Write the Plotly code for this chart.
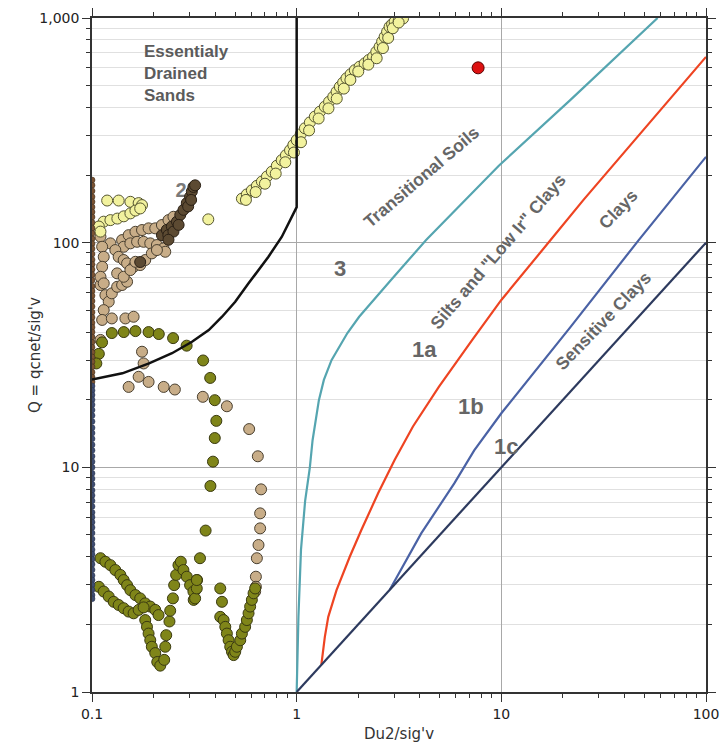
import numpy as np
import plotly.graph_objects as go

# ---------------- boundary curves ----------------
zone2_x = [1, 1, 0.845, 0.728, 0.582, 0.501, 0.432, 0.372, 0.308, 0.246, 0.190, 0.1407, 0.1]
zone2_y = [1000, 144, 106, 86.6, 65.9, 54.6, 46.8, 40.8, 36.2, 32.2, 29.0, 26.2, 24.6]

zone3_x = [1, 1.01, 1.02, 1.05, 1.1, 1.16, 1.196, 1.284, 1.358, 1.48, 1.77, 2.02, 2.39, 2.89,
           3.52, 4.29, 9.72, 21.7, 58]
zone3_y = [1, 1.6, 2.16, 4.3, 7.1, 10, 13.2, 19.9, 24.5, 30, 39.6, 46.8, 55.6, 68.2,
           83.7, 102.7, 220, 431, 1000]

zone1a_x = [1.32, 1.373, 1.427, 1.566, 1.817, 2.07, 2.5, 3.01, 3.70, 4.95, 7.21, 10, 17.4, 25.2, 100]
zone1a_y = [1.32, 1.76, 2.16, 2.84, 4.0, 5.26, 7.66, 10.78, 15.2, 22.8, 36.9, 55.6, 102.7, 155, 671]

zone1b_x = [2.85, 4.06, 5.89, 7.37, 10, 21.8, 46.9, 100]
zone1b_y = [2.85, 5.08, 8.49, 11.9, 17.4, 42.2, 102.7, 241]

zone1c_x = [1, 100]
zone1c_y = [1, 100]

# ---------------- CPT data points ----------------
yellow_x = [0.540, 0.571, 0.604, 0.639, 0.676, 0.716, 0.756, 0.80, 0.845, 0.886, 0.928, 0.963,
            1.0, 1.047, 1.097, 1.16, 1.227, 1.30, 1.373, 1.44, 1.509, 1.567, 1.625, 1.687,
            1.751, 1.835, 1.923, 2.03, 2.149, 2.25, 2.362, 2.45, 2.543, 2.615, 2.69, 2.765,
            2.844, 2.925, 3.01, 3.15, 3.31,
            0.565, 0.63, 0.70, 0.79, 0.88, 0.97, 1.05, 1.15, 1.28, 1.43, 1.57, 1.70, 1.83,
            2.0, 2.24, 2.46, 2.64, 2.80, 2.95, 3.15,
            0.1186, 0.135, 0.154, 0.169, 0.1755, 0.114, 0.123, 0.133, 0.143, 0.154, 0.163,
            0.172, 0.370, 0.108, 0.11]
yellow_y = [157, 164, 171, 179, 187, 197, 207, 220, 233, 245, 258, 272,
            286, 304, 323, 343, 364, 383, 403, 424, 446, 470, 494, 516,
            539, 562, 586, 607, 628, 650, 672, 708, 745, 785, 825, 868,
            914, 938, 962, 970, 995,
            155, 168, 183, 203, 228, 252, 280, 316, 357, 396, 438, 485, 530,
            578, 620, 662, 735, 815, 900, 955,
            154, 154, 152, 150, 147, 124, 126, 128, 131, 135, 139,
            142, 127, 118, 112]

tan_x = [0.110, 0.1163, 0.1207, 0.125, 0.1327, 0.1403, 0.1484, 0.1141, 0.1121, 0.125, 0.1456, 0.1597, 0.110,
         0.1403, 0.151, 0.163, 0.1755, 0.189, 0.2037, 0.2196, 0.2364, 0.250,
         0.1428, 0.154, 0.166, 0.1787, 0.1926, 0.2076, 0.2236, 0.228,
         0.123, 0.130, 0.135, 0.1428, 0.1484, 0.1597, 0.172, 0.182, 0.196, 0.2076,
         0.110, 0.1121, 0.1141, 0.1121, 0.110, 0.1141,
         0.1327, 0.1428, 0.154, 0.163,
         0.1755, 0.1787,
         0.151, 0.169, 0.189, 0.224, 0.254, 0.348, 0.456, 0.586, 0.646, 0.670, 0.663,
         0.663, 0.651, 0.639, 0.632, 0.632, 0.627]
tan_y = [64.8, 58.4, 54.6, 59.5, 63.6, 64.8, 67.0, 50.1, 45.3, 46.0, 46.0, 46.8, 36.9,
         102.7, 108, 111.8, 113.8, 115.8, 115.8, 119.8, 126, 130.4,
         95.9, 99.3, 100.9, 100.9, 99.3, 97.6, 94.3, 91.1,
         99.3, 92.7, 86.5, 83.7, 80.9, 78.1, 79.5, 83.7, 89.6, 92.7,
         106.3, 95.9, 86.5, 78.1, 70.5, 65.9,
         73.0, 70.5, 75.5, 82.2,
         32.7, 29.0,
         22.8, 25.3, 24.0, 22.8, 22.2, 20.6, 18.7, 14.8, 11.2, 7.98, 6.24,
         5.35, 4.51, 3.94, 3.26, 2.94, 2.80]

dark_x = [0.2197, 0.232, 0.2455, 0.260, 0.270, 0.280, 0.2905, 0.3015, 0.3075, 0.313, 0.319,
          0.236, 0.25, 0.265, 0.295, 0.305, 0.172, 0.2364]
dark_y = [108, 114, 118, 124, 133, 140, 150, 160, 169, 177, 180,
          108, 112, 120, 145, 155, 82, 103]

olive_x = [0.112, 0.108, 0.105,
           0.125, 0.143, 0.163, 0.189, 0.212, 0.249, 0.290, 0.349, 0.378, 0.398, 0.405, 0.398,
           0.390, 0.379, 0.359, 0.337, 0.326, 0.320, 0.314,
           0.110, 0.1163, 0.123, 0.130, 0.1376, 0.1428, 0.1484, 0.154, 0.163, 0.172, 0.182,
           0.1926, 0.2037, 0.2114,
           0.108, 0.1141, 0.1207, 0.1277, 0.135, 0.1428, 0.151, 0.1597, 0.169, 0.1787,
           0.182, 0.1856, 0.189, 0.1926, 0.196, 0.2037, 0.2084, 0.2155, 0.2253,
           0.228, 0.2305, 0.239, 0.241, 0.2485, 0.252, 0.2577, 0.2645, 0.2716, 0.2797, 0.2905,
           0.3015, 0.313, 0.319, 0.325, 0.325,
           0.4233, 0.4315, 0.4233, 0.4397, 0.448, 0.456, 0.465, 0.4736, 0.483, 0.492, 0.501,
           0.5105, 0.530, 0.540, 0.560, 0.571, 0.582, 0.5925, 0.604, 0.6157, 0.627]
olive_y = [36, 32, 29,
           39.6, 40.0, 40.4, 40.0, 39.2, 37.6, 34.8, 29.9, 25.0, 19.9, 16.1, 13.5,
           10.6, 8.26, 5.23, 3.94, 3.15, 2.84, 2.57,
           3.94, 3.80, 3.67, 3.49, 3.32, 3.15, 2.99, 2.84, 2.70, 2.61, 2.48,
           2.40, 2.32, 2.20,
           2.94, 2.80, 2.66, 2.52, 2.44, 2.36, 2.28, 2.24, 2.32, 2.38,
           2.09, 1.95, 1.82, 1.70, 1.59, 1.49, 1.36, 1.31, 1.39,
           1.59, 1.79, 2.06, 2.30, 2.61, 2.99, 3.32, 3.67, 3.80, 3.49, 3.26,
           2.99, 2.80, 2.61, 2.89, 3.15,
           2.89, 2.52, 2.16, 2.09, 1.95, 1.82, 1.70, 1.59, 1.51, 1.46, 1.51,
           1.59, 1.70, 1.82, 1.95, 2.09, 2.24, 2.40, 2.57, 2.75, 2.89]

edge_brown_y = [190, 180, 170, 160, 152, 144, 137, 130, 123, 116, 110, 104, 99, 94, 89, 84, 80,
                76, 72, 68, 64, 61, 58, 55, 52, 49, 46.5, 44, 42, 40, 38, 36, 34.2, 32.5, 31,
                29.5, 28, 26.5, 25.2, 24]
edge_navy_y = [23, 22, 21, 20, 19, 18, 17, 16, 15, 14.2, 13.4, 12.6, 11.9, 11.2, 10.6, 10,
               9.4, 8.9, 8.4, 7.9, 7.5, 7.1, 6.7, 6.3, 6.0, 5.7, 5.4, 5.1, 4.8, 4.55, 4.3,
               4.1, 3.9, 3.7, 3.5, 3.3, 3.15, 3.0, 2.85, 2.7, 2.6]
edge_x = 0.1

red_x = [7.7]
red_y = [600]

# ---------------- figure ----------------
fig = go.Figure()

def pts(x, y, fill, edge, size=11, lw=1):
    fig.add_trace(go.Scatter(x=x, y=y, mode="markers", showlegend=False, hoverinfo="skip",
                             marker=dict(size=size, color=fill, line=dict(color=edge, width=lw))))

pts(tan_x, tan_y, "#c8ad88", "#4a4030")
pts(olive_x, olive_y, "#7f8519", "#3a3a10")
fig.add_trace(go.Scatter(x=[0.2726], y=[168], mode="text", text=["<b>2</b>"], showlegend=False,
                         hoverinfo="skip", textfont=dict(size=20, color="#7a7a7a",
                                                         family="Liberation Sans, Arial")))
pts(dark_x, dark_y, "#5c4a32", "#2a2015")
pts(yellow_x, yellow_y, "#f2f29e", "#555530")
pts(red_x, red_y, "#dd1111", "#5a0000", size=12)
pts([edge_x] * len(edge_brown_y), edge_brown_y, "#7a5232", "#3a2814", size=6, lw=0.5)
pts([edge_x] * len(edge_navy_y), edge_navy_y, "#3e4c70", "#25304a", size=6, lw=0.5)

def line(x, y, color, width):
    fig.add_trace(go.Scatter(x=x, y=y, mode="lines", showlegend=False, hoverinfo="skip",
                             line=dict(color=color, width=width)))

line(zone2_x, zone2_y, "#111111", 2.5)
line(zone3_x, zone3_y, "#55a5b0", 2.2)
line(zone1a_x, zone1a_y, "#ee4422", 2.2)
line(zone1b_x, zone1b_y, "#4a62a5", 2.2)
line(zone1c_x, zone1c_y, "#2d3a5e", 2.2)

def ann(x, y, text, size, angle=0, xanchor="center", yanchor="middle", align="center", color="#666666"):
    fig.add_annotation(x=np.log10(x), y=np.log10(y), xref="x", yref="y", text=text,
                       showarrow=False, textangle=angle, xanchor=xanchor, yanchor=yanchor,
                       align=align, font=dict(family="Liberation Sans, Arial", size=size, color=color))

ann(0.176, 797, "<b>Essentialy<br>Drained<br>Sands</b>", 17, xanchor="left", yanchor="top",
    align="left", color="#5b5b5b")
ann(1.625, 76.9, "<b>3</b>", 22)
ann(4.21, 33.3, "<b>1a</b>", 22)
ann(7.11, 18.6, "<b>1b</b>", 22)
ann(10.5, 12.4, "<b>1c</b>", 22)
ann(4.06, 196, "<b>Transitional Soils</b>", 17.5, angle=-40.5)
ann(9.67, 91.9, "<b>Silts and \"Low Ir\" Clays</b>", 17.5, angle=-49.5)
ann(37.4, 140.9, "<b>Clays</b>", 17.5, angle=-46)
ann(31.4, 44.9, "<b>Sensitive Clays</b>", 17.5, angle=-46)

# y-axis title placed as rotated text left of the tick labels
fig.add_annotation(x=-57 / 614, y=0.5, xref="paper", yref="paper", text="Q = qcnet/sig'v",
                   textangle=-90, showarrow=False, xanchor="center", yanchor="middle",
                   font=dict(family="DejaVu Sans", size=15, color="#333333"))

axis_common = dict(
    type="log", showline=True, linecolor="#333333", linewidth=1.5, mirror="ticks",
    ticks="outside", ticklen=8, tickcolor="#333333", tickwidth=1, dtick=1,
    tickfont=dict(family="DejaVu Sans", size=14, color="#222222"),
    showgrid=True, gridcolor="#a8a8a8", gridwidth=1,
)

fig.update_xaxes(**axis_common, range=[-1, 2],
                 minor=dict(dtick="D1", ticks="outside", ticklen=4, tickcolor="#333333", showgrid=False),
                 title=dict(text="Du2/sig'v", font=dict(family="DejaVu Sans", size=15, color="#333333"),
                            standoff=8))
fig.update_yaxes(**axis_common, range=[0, 3], tickformat=",",
                 minor=dict(dtick="D1", ticks="outside", ticklen=4, tickcolor="#333333",
                            showgrid=True, gridcolor="#e0e0e0", gridwidth=1))

fig.update_layout(width=721, height=743, margin=dict(l=92, r=15, t=18, b=51, autoexpand=False),
                  plot_bgcolor="white", paper_bgcolor="white", showlegend=False)

fig.write_html("out.html")
